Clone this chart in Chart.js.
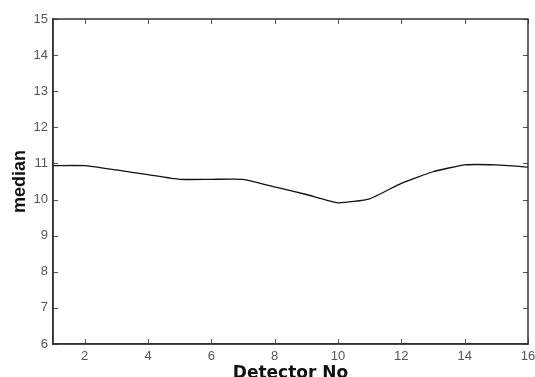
<!DOCTYPE html>
<html>
<head>
<meta charset="utf-8">
<script src="https://cdn.jsdelivr.net/npm/chart.js@4/dist/chart.umd.min.js"></script>
<style>
  html, body { margin: 0; padding: 0; background: #fff; }
  #wrap { width: 535px; height: 377px; }
</style>
</head>
<body>
<div id="wrap"><canvas id="c" width="535" height="377"></canvas></div>
<script>
const detectors = [1, 2, 3, 4, 5, 6, 7, 8, 9, 10, 11, 12, 13, 14, 15, 16];
const medians = [10.94, 10.94, 10.82, 10.69, 10.56, 10.56, 10.56, 10.35, 10.14, 9.91, 10.02, 10.45, 10.77, 10.96, 10.96, 10.9];
const xTickValues = [2, 4, 6, 8, 10, 12, 14, 16];
const yTickValues = [6, 7, 8, 9, 10, 11, 12, 13, 14, 15];
const xTitle = 'Detector No';
const yTitle = 'median';

const points = detectors.map((d, i) => ({ x: d, y: medians[i] }));

const frameAndTicks = {
  id: 'frameAndTicks',
  afterDatasetsDraw(chart) {
    const { ctx, chartArea: a, scales: { x, y } } = chart;
    ctx.save();
    ctx.strokeStyle = '#555';
    ctx.lineWidth = 1;
    const L = 5;
    ctx.beginPath();
    xTickValues.forEach(v => {
      const px = Math.round(x.getPixelForValue(v)) + 0.5;
      ctx.moveTo(px, a.bottom); ctx.lineTo(px, a.bottom - L);
      ctx.moveTo(px, a.top); ctx.lineTo(px, a.top + L);
    });
    yTickValues.forEach(v => {
      const py = Math.round(y.getPixelForValue(v)) + 0.5;
      ctx.moveTo(a.left, py); ctx.lineTo(a.left + L, py);
      ctx.moveTo(a.right, py); ctx.lineTo(a.right - L, py);
    });
    ctx.stroke();
    ctx.strokeStyle = '#333';
    ctx.lineWidth = 1.5;
    ctx.strokeRect(a.left, a.top, a.right - a.left, a.bottom - a.top);
    ctx.restore();
  }
};

new Chart(document.getElementById('c'), {
  type: 'line',
  data: {
    datasets: [{
      data: points,
      borderColor: '#111',
      borderWidth: 1.3,
      pointRadius: 0,
      fill: false,
      tension: 0.15
    }]
  },
  options: {
    responsive: false,
    animation: false,
    layout: { padding: { top: 19, right: 7, left: 0, bottom: 0 } },
    plugins: { legend: { display: false }, tooltip: { enabled: false } },
    scales: {
      x: {
        type: 'linear',
        min: 1, max: 16,
        afterFit(s) { s.height = 33; s.paddingRight = 0; s.paddingLeft = 0; },
        grid: { drawOnChartArea: false, drawTicks: false },
        border: { display: true, color: '#333', width: 1.5 },
        ticks: {
          stepSize: 2, includeBounds: false, padding: 5,
          color: '#555',
          font: { family: 'Liberation Sans', size: 13 }
        },
        title: {
          display: true, text: xTitle, color: '#111',
          padding: { top: 0, bottom: 0 },
          font: { family: 'DejaVu Sans', size: 17, weight: 'bold', lineHeight: 0.36 }
        }
      },
      y: {
        min: 6, max: 15,
        afterFit(s) { s.width = 53; s.paddingTop = 0; s.paddingBottom = 0; },
        grid: { drawOnChartArea: false, drawTicks: false },
        border: { display: true, color: '#333', width: 1.5 },
        ticks: {
          stepSize: 1, padding: 5,
          color: '#555',
          font: { family: 'Liberation Sans', size: 13 }
        },
        title: {
          display: true, text: yTitle, color: '#111',
          padding: { top: 0, bottom: 0 },
          font: { family: 'Liberation Sans', size: 18, weight: 'bold', lineHeight: 2.2 }
        }
      }
    }
  },
  plugins: [frameAndTicks]
});
</script>
</body>
</html>
